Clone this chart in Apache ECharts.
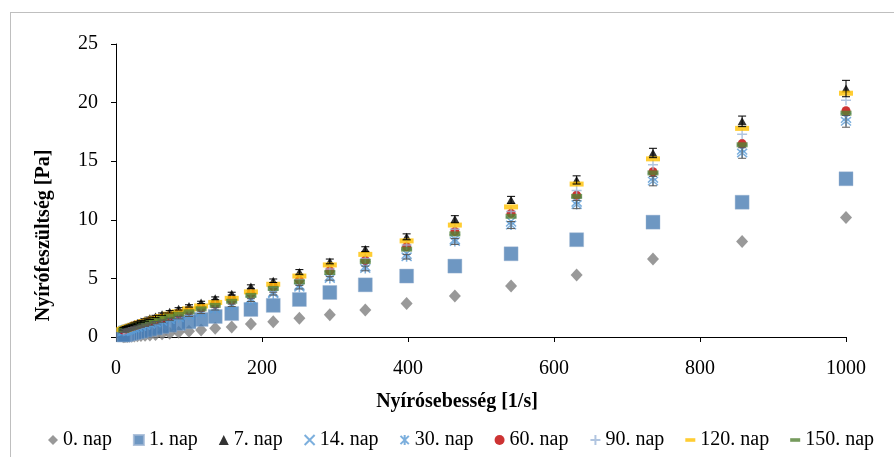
<!DOCTYPE html>
<html>
<head>
<meta charset="utf-8">
<script src="https://cdn.jsdelivr.net/npm/echarts@6/dist/echarts.min.js"></script>
<style>
  html, body { margin: 0; padding: 0; background: #fff; }
  #chart { width: 894px; height: 457px; }
</style>
</head>
<body>
<div id="chart"></div>
<script>
// shear rate [1/s] (log spaced, high to low)
const shearRate = [1000, 857.7, 735.6, 631.0, 541.2, 464.2, 398.1, 341.5, 292.9, 251.2, 215.4,
  184.8, 158.5, 135.9, 116.6, 100, 85.77, 73.56, 63.10, 54.12, 46.42, 39.81, 34.15, 29.29,
  25.12, 21.54, 18.48, 15.85, 13.59, 11.66, 10];

// shear stress [Pa] per storage day
const day0 = [10.2, 8.15, 6.65, 5.3, 4.35, 3.5, 2.85, 2.3, 1.9, 1.6, 1.3, 1.1, 0.85, 0.75, 0.6, 0.5,
  0.4, 0.33, 0.27, 0.22, 0.18, 0.15, 0.12, 0.1, 0.08, 0.07, 0.06, 0.05, 0.04, 0.04, 0.03];
const day1 = [13.5, 11.5, 9.8, 8.3, 7.1, 6.05, 5.2, 4.45, 3.8, 3.2, 2.7, 2.35, 2.0, 1.75, 1.5, 1.3,
  1.15, 1.0, 0.88, 0.77, 0.67, 0.58, 0.5, 0.44, 0.38, 0.33, 0.29, 0.25, 0.22, 0.19, 0.17];
const day7 = [21.2, 18.4, 15.7, 13.4, 11.7, 10.05, 8.55, 7.5, 6.45, 5.55, 4.8, 4.3, 3.7, 3.3, 2.95, 2.65,
  2.4, 2.15, 1.95, 1.75, 1.6, 1.45, 1.32, 1.2, 1.1, 1.0, 0.92, 0.85, 0.79, 0.74, 0.69];
const day14 = [18.7, 16.0, 13.6, 11.55, 9.85, 8.35, 7.1, 6.05, 5.2, 4.45, 3.85, 3.3, 2.8, 2.5, 2.2, 1.95,
  1.75, 1.55, 1.4, 1.27, 1.15, 1.05, 0.96, 0.88, 0.81, 0.75, 0.69, 0.64, 0.6, 0.56, 0.52];
const day30 = [18.4, 15.7, 13.3, 11.3, 9.55, 8.15, 6.85, 5.85, 5.0, 4.25, 3.7, 3.15, 2.7, 2.4, 2.1, 1.85,
  1.65, 1.5, 1.35, 1.22, 1.1, 1.0, 0.92, 0.84, 0.77, 0.71, 0.65, 0.6, 0.56, 0.52, 0.49];
const day60 = [19.3, 16.5, 14.1, 12.1, 10.55, 9.0, 7.7, 6.55, 5.65, 4.85, 4.3, 3.7, 3.15, 2.8, 2.5, 2.25,
  2.0, 1.8, 1.62, 1.48, 1.35, 1.24, 1.13, 1.04, 0.95, 0.87, 0.8, 0.74, 0.69, 0.64, 0.6];
const day90 = [20.2, 17.3, 14.7, 12.5, 10.7, 9.2, 7.85, 6.7, 5.8, 4.9, 4.25, 3.65, 3.15, 2.8, 2.5, 2.25,
  2.0, 1.8, 1.65, 1.5, 1.37, 1.25, 1.15, 1.05, 0.96, 0.88, 0.81, 0.75, 0.7, 0.65, 0.61];
const day120 = [20.8, 17.8, 15.2, 13.05, 11.1, 9.55, 8.2, 7.05, 6.15, 5.2, 4.5, 3.85, 3.3, 2.95, 2.65, 2.4,
  2.15, 1.95, 1.75, 1.6, 1.45, 1.32, 1.2, 1.1, 1.0, 0.92, 0.85, 0.78, 0.72, 0.67, 0.63];
const day150 = [19.1, 16.4, 14.0, 12.0, 10.3, 8.8, 7.5, 6.45, 5.5, 4.7, 4.15, 3.55, 3.05, 2.7, 2.4, 2.15,
  1.95, 1.75, 1.58, 1.44, 1.32, 1.2, 1.1, 1.0, 0.92, 0.85, 0.78, 0.72, 0.67, 0.62, 0.58];

// error bar half widths
const err7 = [0.7, 0.45, 0.4, 0.35, 0.3, 0.3, 0.25, 0.2, 0.2, 0.2, 0.15, 0.15, 0.12, 0.12, 0.1, 0.1,
  0.1, 0.1, 0.1, 0.1, 0.1, 0.1, 0.1, 0.1, 0.1, 0.1, 0.1, 0.1, 0.1, 0.1, 0.1];
const err30 = [0.5, 0.45, 0.4, 0.35, 0.3, 0.25, 0.2, 0.2, 0.15, 0.15, 0.12, 0.12, 0.1, 0.1, 0.1, 0.1,
  0.1, 0.1, 0.1, 0.1, 0.1, 0.1, 0.1, 0.1, 0.1, 0.1, 0.1, 0.1, 0.1, 0.1, 0.1];

const xTicks = [0, 200, 400, 600, 800, 1000];
const yTicks = [0, 5, 10, 15, 20, 25];

const serif = '"Liberation Serif", "Times New Roman", serif';

const pairs = (ys) => shearRate.map((x, i) => [x, ys[i]]);
const triples = (ys, es) => shearRate.map((x, i) => [x, ys[i], es[i]]);

const X_PATH = 'path://M0,0L10,10M10,0L0,10';
const STAR_PATH = 'path://M0,0L10,10M10,0L0,10M5,-1L5,11';
const PLUS_PATH = 'path://M5,0L5,10M0,5L10,5';
const DASH_ICON = 'path://M0,0M10,10M0,3.2L10,3.2L10,6.8L0,6.8Z';

const errBars = (name, ys, es, color) => ({
  name: name,
  type: 'custom',
  data: triples(ys, es),
  z: 3,
  renderItem: function (params, api) {
    const x = api.value(0), y = api.value(1), e = api.value(2);
    const top = api.coord([x, y + e]);
    const bot = api.coord([x, y - e]);
    const style = { stroke: color, lineWidth: 1 };
    return {
      type: 'group',
      children: [
        { type: 'line', shape: { x1: top[0], y1: top[1], x2: bot[0], y2: bot[1] }, style: style },
        { type: 'line', shape: { x1: top[0] - 4, y1: top[1], x2: top[0] + 4, y2: top[1] }, style: style },
        { type: 'line', shape: { x1: bot[0] - 4, y1: bot[1], x2: bot[0] + 4, y2: bot[1] }, style: style }
      ]
    };
  }
});

const chart = echarts.init(document.getElementById('chart'), null, { renderer: 'canvas' });

chart.setOption({
  animation: false,
  backgroundColor: '#fff',
  textStyle: { fontFamily: serif },
  graphic: [
    { type: 'line', shape: { x1: 10, y1: 12.5, x2: 894, y2: 12.5 }, style: { stroke: '#bfbfbf', lineWidth: 1 } },
    { type: 'line', shape: { x1: 10.5, y1: 12, x2: 10.5, y2: 457 }, style: { stroke: '#bfbfbf', lineWidth: 1 } }
  ],
  grid: { left: 116, right: 48, top: 44, bottom: 120 },
  legend: {
    left: 43,
    top: 425,
    itemGap: 21,
    itemWidth: 10,
    itemHeight: 10,
    textStyle: { fontFamily: serif, fontSize: 20, color: '#000' },
    data: [
      { name: '0. nap' },
      { name: '1. nap' },
      { name: '7. nap' },
      { name: '14. nap' },
      { name: '30. nap' },
      { name: '60. nap' },
      { name: '90. nap' },
      { name: '120. nap', icon: DASH_ICON },
      { name: '150. nap', icon: DASH_ICON }
    ]
  },
  xAxis: {
    type: 'value',
    min: xTicks[0],
    max: xTicks[xTicks.length - 1],
    interval: 200,
    name: 'Nyírósebesség [1/s]',
    nameLocation: 'middle',
    nameGap: 55,
    nameTextStyle: { fontFamily: serif, fontSize: 20, fontWeight: 'bold', color: '#000', padding: [0, 48, 0, 0] },
    axisLine: { lineStyle: { color: '#000', width: 1 } },
    axisTick: { show: true, length: 5, lineStyle: { color: '#000' } },
    axisLabel: { fontFamily: serif, fontSize: 20, color: '#000', margin: 22, formatter: (v) => String(v) },
    splitLine: { show: false }
  },
  yAxis: {
    type: 'value',
    min: yTicks[0],
    max: yTicks[yTicks.length - 1],
    interval: 5,
    name: 'Nyírófeszültség [Pa]',
    nameLocation: 'middle',
    nameGap: 62,
    nameTextStyle: { fontFamily: serif, fontSize: 20, fontWeight: 'bold', color: '#000', padding: [0, 90, 0, 0] },
    axisLine: { show: true, lineStyle: { color: '#000', width: 1 } },
    axisTick: { show: true, length: 5, lineStyle: { color: '#000' } },
    axisLabel: { fontFamily: serif, fontSize: 20, color: '#000', margin: 18, formatter: (v) => String(v) },
    splitLine: { show: false }
  },
  series: [
    { name: '0. nap', type: 'scatter', data: pairs(day0), symbol: 'diamond', symbolSize: [12, 13],
      itemStyle: { color: '#808080' } },
    { name: '1. nap', type: 'scatter', data: pairs(day1), symbol: 'rect', symbolSize: 14,
      itemStyle: { color: '#4a7db3', borderColor: '#9db5d3', borderWidth: 0.5 } },
    errBars('err7', day7, err7, '#000'),
    { name: '7. nap', type: 'scatter', data: pairs(day7), symbol: 'triangle', symbolSize: [9, 8],
      itemStyle: { color: '#000' } },
    { name: '14. nap', type: 'scatter', data: pairs(day14), symbol: X_PATH, symbolSize: 10,
      itemStyle: { color: '#5b9bd5', borderColor: '#5b9bd5', borderWidth: 1.5 } },
    errBars('err30', day30, err30, '#595959'),
    { name: '30. nap', type: 'scatter', data: pairs(day30), symbol: STAR_PATH, symbolSize: 10,
      itemStyle: { color: '#5b9bd5', borderColor: '#5b9bd5', borderWidth: 1.5 } },
    { name: '60. nap', type: 'scatter', data: pairs(day60), symbol: 'circle', symbolSize: 9,
      itemStyle: { color: '#c00000' } },
    { name: '90. nap', type: 'scatter', data: pairs(day90), symbol: PLUS_PATH, symbolSize: 10,
      itemStyle: { color: '#9db6d8', borderColor: '#9db6d8', borderWidth: 1.5 } },
    { name: '120. nap', type: 'scatter', data: pairs(day120), symbol: 'rect', symbolSize: [14, 5],
      itemStyle: { color: '#ffc000' } },
    { name: '150. nap', type: 'scatter', data: pairs(day150), symbol: 'rect', symbolSize: [11, 5],
      itemStyle: { color: '#548235' } }
  ]
});
</script>
</body>
</html>
